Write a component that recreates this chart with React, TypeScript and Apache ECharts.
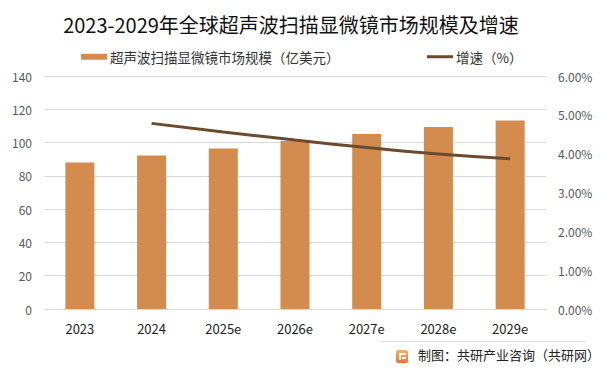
import React, { useEffect, useRef } from "react";
import * as echarts from "echarts";

const categories = ["2023", "2024", "2025e", "2026e", "2027e", "2028e", "2029e"];
const marketSize = [88.1, 92.3, 96.5, 100.9, 105.1, 109.3, 113.3];
const growthRate: (number | null)[] = [null, 4.78, 4.56, 4.35, 4.16, 3.99, 3.87];
const leftTicks = { min: 0, max: 140, interval: 20 };
const rightTicks = { min: 0, max: 6, interval: 1 };

const titleText = "2023-2029年全球超声波扫描显微镜市场规模及增速";
const barName = "超声波扫描显微镜市场规模（亿美元）";
const lineName = "增速（%）";
const footerText = "制图：共研产业咨询（共研网）";

const FONT = "'Noto Sans CJK SC', 'Noto Sans', sans-serif";

export default function App() {
  const ref = useRef<HTMLDivElement>(null);
  useEffect(() => {
    if (!ref.current) return;
    const chart = echarts.init(ref.current, null, { renderer: "svg" });
    chart.setOption({
      animation: false,
      backgroundColor: "#ffffff",
      textStyle: { fontFamily: FONT },
      title: {
        text: titleText,
        left: 286,
        textAlign: "center",
        top: 9,
        textStyle: { fontSize: 20, fontWeight: "normal", color: "#111111", fontFamily: FONT },
      },
      legend: {
        top: 45,
        left: 76,
        itemGap: 86,
        itemWidth: 26,
        itemHeight: 6,
        textStyle: {
          fontSize: 13.5,
          color: "#333333",
          fontFamily: FONT,
          padding: [0, 0, 0, -2],
        },
        data: [
          { name: barName, icon: "rect" },
          {
            name: lineName,
            itemStyle: { opacity: 0 },
            lineStyle: { color: "#6b4a2e", width: 3 },
          },
        ],
      },
      grid: { left: 44, right: 55, top: 76, bottom: 64 },
      xAxis: {
        type: "category",
        data: categories,
        axisLine: { lineStyle: { color: "#d9d9d9", width: 1 } },
        axisTick: { show: false },
        axisLabel: { color: "#222222", fontSize: 13, margin: 13, fontFamily: FONT },
      },
      yAxis: [
        {
          type: "value",
          min: leftTicks.min,
          max: leftTicks.max,
          interval: leftTicks.interval,
          axisLine: { show: false },
          axisTick: { show: false },
          axisLabel: { color: "#595959", fontSize: 12, margin: 12, fontFamily: FONT },
          splitLine: { lineStyle: { color: "#d9d9d9", width: 1 } },
        },
        {
          type: "value",
          min: rightTicks.min,
          max: rightTicks.max,
          interval: rightTicks.interval,
          axisLine: { show: false },
          axisTick: { show: false },
          splitLine: { show: false },
          axisLabel: {
            color: "#595959",
            fontSize: 12,
            margin: 12,
            fontFamily: FONT,
            formatter: (v: number) => v.toFixed(2) + "%",
          },
        },
      ],
      series: [
        {
          name: barName,
          type: "bar",
          data: marketSize,
          barWidth: 29,
          itemStyle: { color: "#d48b4e" },
        },
        {
          name: lineName,
          type: "line",
          yAxisIndex: 1,
          data: growthRate,
          smooth: true,
          showSymbol: false,
          symbol: "none",
          lineStyle: { color: "#6b4a2e", width: 3 },
          itemStyle: { color: "#6b4a2e" },
        },
      ],
      graphic: [
        {
          type: "line",
          shape: { x1: 380, y1: 341.5, x2: 586, y2: 341.5 },
          style: { stroke: "#e3e3e3", lineWidth: 1 },
        },
        {
          type: "group",
          left: 396,
          top: 350,
          children: [
            {
              type: "rect",
              shape: { x: 0, y: 0, width: 12, height: 13, r: 2 },
              style: {
                fill: new echarts.graphic.LinearGradient(0, 0, 0, 1, [
                  { offset: 0, color: "#f6b26b" },
                  { offset: 1, color: "#e8743b" },
                ]),
              },
            },
            {
              type: "rect",
              shape: { x: 3, y: 3, width: 7, height: 2 },
              style: { fill: "#ffffff" },
            },
            {
              type: "rect",
              shape: { x: 3, y: 3, width: 2, height: 7 },
              style: { fill: "#ffffff" },
            },
            {
              type: "rect",
              shape: { x: 6, y: 7, width: 4, height: 2 },
              style: { fill: "#ffffff" },
            },
          ],
        },
        {
          type: "text",
          left: 418,
          top: 348,
          style: {
            text: footerText,
            fontSize: 13,
            fill: "#222222",
            fontFamily: FONT,
          },
        },
      ],
    });
    return () => chart.dispose();
  }, []);
  return (
    <div
      ref={ref}
      style={{ position: "fixed", left: 0, top: 0, width: 601, height: 373 }}
    />
  );
}
